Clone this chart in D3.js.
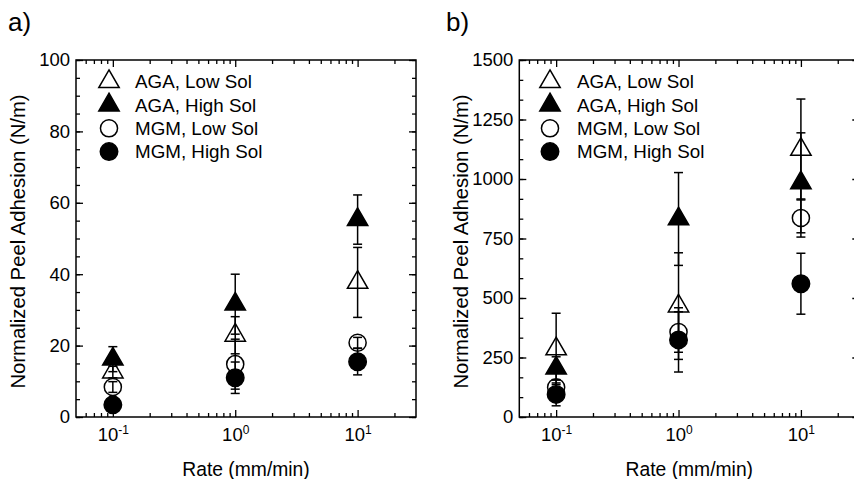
<!DOCTYPE html>
<html>
<head>
<meta charset="utf-8">
<script src="https://cdn.jsdelivr.net/npm/d3@7"></script>
<style>
  html, body { margin: 0; padding: 0; background: #fff; }
  svg { display: block; font-family: "Liberation Sans", Arial, Helvetica, sans-serif; }
</style>
</head>
<body>
<svg id="chart" width="854" height="479"></svg>
<script>
// Peel rates (mm/min)
const rates = [0.1, 1, 10];
const seriesNames = ["AGA, Low Sol", "AGA, High Sol", "MGM, Low Sol", "MGM, High Sol"];

// Panel a) normalized peel adhesion (N/m)
const aAgaLow = [12.6, 22.9, 37.7];
const aAgaLowErr = [1.6, 5.2, 9.8];
const aAgaHigh = [16.2, 31.6, 55.3];
const aAgaHighErr = [3.5, 8.4, 6.9];
const aMgmLow = [8.4, 14.8, 20.8];
const aMgmLowErr = [1.5, 7.0, 1.5];
const aMgmHigh = [3.4, 11.0, 15.5];
const aMgmHighErr = [1.0, 4.4, 3.7];

// Panel b) normalized peel adhesion (N/m)
const bAgaLow = [286, 466, 1124];
const bAgaLowErr = [150, 224, 212];
const bAgaHigh = [205, 832, 984];
const bAgaHighErr = [48, 195, 210];
const bMgmLow = [125, 357, 836];
const bMgmLowErr = [30, 85, 80];
const bMgmHigh = [95, 324, 560];
const bMgmHighErr = [48, 135, 128];

// Axis ticks
const xDomain = [0.05, 30];
const xMajor = [0.1, 1, 10];
const xMinor = [0.06, 0.07, 0.08, 0.09, 0.2, 0.3, 0.4, 0.5, 0.6, 0.7, 0.8, 0.9,
                2, 3, 4, 5, 6, 7, 8, 9, 20];
const aYMajor = [0, 20, 40, 60, 80, 100];
const aYMinor = d3.range(0, 101, 5);
const bYMajor = [0, 250, 500, 750, 1000, 1250, 1500];
const bYMinor = d3.range(0, 1501, 250 / 3);

// Marker style per series
const markerStyles = [
  { shape: d3.symbolTriangle, filled: false, size: 180 },
  { shape: d3.symbolTriangle, filled: true, size: 180 },
  { shape: d3.symbolCircle, filled: false, size: 230 },
  { shape: d3.symbolCircle, filled: true, size: 240 }
];

const svg = d3.select("#chart");
const FONT = 18.5;

function drawPanel(opts) {
  const g = svg.append("g");
  const x = d3.scaleLog().domain(xDomain).range([opts.left, opts.left + 340]);
  const y = d3.scaleLinear().domain(opts.yDomain).range([417, 60]);
  const top = 60, bottom = 417, left = opts.left, right = opts.left + 340;

  // frame
  g.append("rect")
    .attr("x", left).attr("y", top)
    .attr("width", right - left).attr("height", bottom - top)
    .attr("fill", "none").attr("stroke", "#000").attr("stroke-width", 1.5);

  function styleAxis(sel) {
    sel.select(".domain").remove();
    sel.selectAll(".tick line").attr("stroke", "#000").attr("stroke-width", 1.3);
  }

  // bottom axis with power-of-ten labels
  const xb = g.append("g").attr("transform", `translate(0,${bottom})`)
    .call(d3.axisBottom(x).tickValues(xMajor).tickSize(-7).tickPadding(11)
      .tickFormat(d => ""));
  styleAxis(xb);
  xb.selectAll(".tick text").each(function(d) {
    const t = d3.select(this)
      .attr("font-size", FONT).attr("fill", "#000")
      .attr("font-family", "Liberation Sans, Arial, sans-serif");
    t.text(null);
    t.append("tspan").text("10");
    t.append("tspan").attr("font-size", 12).attr("dy", -7.5)
      .text(String(Math.round(Math.log10(d))));
  });
  const xbm = g.append("g").attr("transform", `translate(0,${bottom})`)
    .call(d3.axisBottom(x).tickValues(xMinor).tickSize(-4).tickFormat(""));
  styleAxis(xbm);

  // top axis (ticks only)
  const xt = g.append("g").attr("transform", `translate(0,${top})`)
    .call(d3.axisTop(x).tickValues(xMajor).tickSize(-7).tickFormat(""));
  styleAxis(xt);
  const xtm = g.append("g").attr("transform", `translate(0,${top})`)
    .call(d3.axisTop(x).tickValues(xMinor).tickSize(-4).tickFormat(""));
  styleAxis(xtm);

  // left axis with labels
  const yl = g.append("g").attr("transform", `translate(${left},0)`)
    .call(d3.axisLeft(y).tickValues(opts.yMajor).tickSize(-7).tickPadding(6)
      .tickFormat(d3.format("d")));
  styleAxis(yl);
  yl.selectAll(".tick text").attr("font-size", FONT).attr("fill", "#000")
    .attr("font-family", "Liberation Sans, Arial, sans-serif");
  const ylm = g.append("g").attr("transform", `translate(${left},0)`)
    .call(d3.axisLeft(y).tickValues(opts.yMinor).tickSize(-4).tickFormat(""));
  styleAxis(ylm);

  // right axis (ticks only)
  const yr = g.append("g").attr("transform", `translate(${right},0)`)
    .call(d3.axisRight(y).tickValues(opts.yMajor).tickSize(-7).tickFormat(""));
  styleAxis(yr);
  const yrm = g.append("g").attr("transform", `translate(${right},0)`)
    .call(d3.axisRight(y).tickValues(opts.yMinor).tickSize(-4).tickFormat(""));
  styleAxis(yrm);

  // axis titles
  g.append("text")
    .attr("x", (left + right) / 2).attr("y", 476)
    .attr("text-anchor", "middle").attr("font-size", 19.3)
    .text("Rate (mm/min)");
  g.append("text")
    .attr("transform", `translate(${opts.titleX},${(top + bottom) / 2 + 3}) rotate(-90)`)
    .attr("text-anchor", "middle").attr("dy", "0.35em").attr("font-size", 20.3)
    .text("Normalized Peel Adhesion (N/m)");

  // panel letter
  g.append("text")
    .attr("x", opts.letterX).attr("y", 31)
    .attr("font-size", 26)
    .text(opts.letter);

  // series: error bars then markers
  opts.series.forEach((s, i) => {
    const st = markerStyles[i];
    const pts = rates.map((r, j) => ({ r, v: s.values[j], e: s.errors[j] }));
    const sg = g.append("g");
    pts.forEach(p => {
      const cx = x(p.r);
      const y1 = y(p.v + p.e), y0 = y(p.v - p.e);
      sg.append("line").attr("x1", cx).attr("x2", cx)
        .attr("y1", y1).attr("y2", y0)
        .attr("stroke", "#000").attr("stroke-width", 1.5);
      [y1, y0].forEach(yy => sg.append("line")
        .attr("x1", cx - 4.5).attr("x2", cx + 4.5)
        .attr("y1", yy).attr("y2", yy)
        .attr("stroke", "#000").attr("stroke-width", 1.5));
    });
    sg.selectAll("path.mark").data(pts).join("path")
      .attr("class", "mark")
      .attr("transform", p => `translate(${x(p.r)},${y(p.v)})`)
      .attr("d", d3.symbol().type(st.shape).size(st.size))
      .attr("fill", st.filled ? "#000" : "none")
      .attr("stroke", "#000").attr("stroke-width", 1.5);
  });

  // legend
  const lg = g.append("g");
  seriesNames.forEach((name, i) => {
    const st = markerStyles[i];
    const ly = 81.7 + i * 23.3;
    lg.append("path")
      .attr("transform", `translate(${opts.legendSymX},${ly})`)
      .attr("d", d3.symbol().type(st.shape).size(st.size))
      .attr("fill", st.filled ? "#000" : "none")
      .attr("stroke", "#000").attr("stroke-width", 1.5);
    lg.append("text")
      .attr("x", opts.legendTextX).attr("y", ly)
      .attr("dy", "0.35em").attr("font-size", 18.8)
      .text(name);
  });
}

drawPanel({
  left: 76, yDomain: [0, 100], yMajor: aYMajor, yMinor: aYMinor,
  titleX: 18, letter: "a)", letterX: 8,
  legendSymX: 109, legendTextX: 135,
  series: [
    { values: aAgaLow, errors: aAgaLowErr },
    { values: aAgaHigh, errors: aAgaHighErr },
    { values: aMgmLow, errors: aMgmLowErr },
    { values: aMgmHigh, errors: aMgmHighErr }
  ]
});

drawPanel({
  left: 519.3, yDomain: [0, 1500], yMajor: bYMajor, yMinor: bYMinor,
  titleX: 461, letter: "b)", letterX: 446,
  legendSymX: 550, legendTextX: 577,
  series: [
    { values: bAgaLow, errors: bAgaLowErr },
    { values: bAgaHigh, errors: bAgaHighErr },
    { values: bMgmLow, errors: bMgmLowErr },
    { values: bMgmHigh, errors: bMgmHighErr }
  ]
});
</script>
</body>
</html>
